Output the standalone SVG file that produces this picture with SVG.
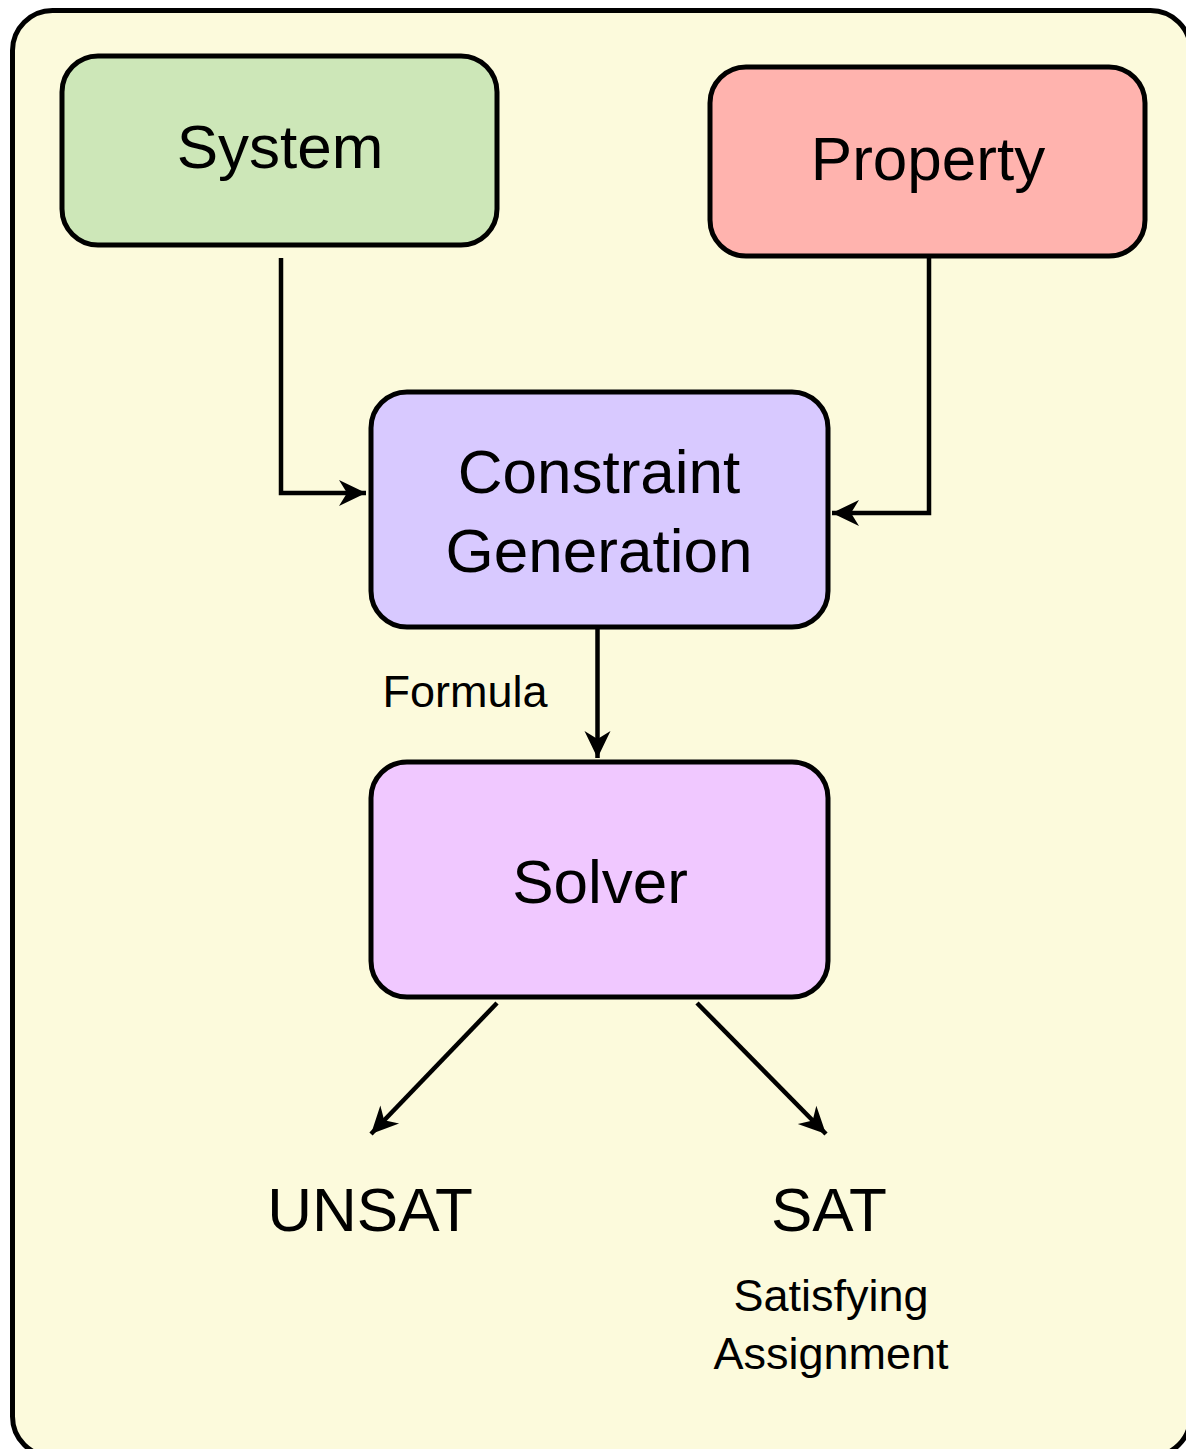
<svg xmlns="http://www.w3.org/2000/svg" width="1186" height="1449" viewBox="0 0 1186 1449">
  <style>
    .frame { fill: #fcfadc; stroke: #000; stroke-width: 5; }
    .box { stroke: #000; stroke-width: 5; }
    .big { font-family: "Liberation Sans", Arial, sans-serif; font-size: 62px; fill: #000; text-anchor: middle; }
    .small { font-family: "Liberation Sans", Arial, sans-serif; font-size: 45px; fill: #000; text-anchor: middle; }
    .wire { fill: none; stroke: #000; stroke-width: 4.5; marker-end: url(#head); }
  </style>
  <defs>
    <marker id="head" markerUnits="userSpaceOnUse" markerWidth="32" markerHeight="32" viewBox="-30 -15 32 30" refX="0" refY="0" orient="auto">
      <path d="M0,0 L-27,-13 L-19,0 L-27,13 Z" fill="#000"/>
    </marker>
  </defs>

  <!-- background panel, running off the right and bottom edges -->
  <rect class="frame" x="12.5" y="10.5" width="1178" height="1446" rx="40" ry="40"/>

  <g id="system">
    <rect class="box" x="62" y="56" width="435" height="189" rx="36" ry="36" fill="#cde7b8"/>
    <text class="big" x="280" y="168">System</text>
  </g>

  <g id="property">
    <rect class="box" x="710" y="67" width="435" height="189" rx="36" ry="36" fill="#ffb3ae"/>
    <text class="big" x="928" y="180">Property</text>
  </g>

  <g id="constraint-generation">
    <rect class="box" x="371" y="392" width="457" height="235" rx="36" ry="36" fill="#d8c9ff"/>
    <text class="big" x="599" y="493">Constraint</text>
    <text class="big" x="599" y="572">Generation</text>
  </g>

  <g id="solver">
    <rect class="box" x="371" y="762" width="457" height="235" rx="36" ry="36" fill="#f0c8ff"/>
    <text class="big" x="600" y="903">Solver</text>
  </g>

  <g id="unsat">
    <text class="big" x="370" y="1231">UNSAT</text>
  </g>

  <g id="sat">
    <text class="big" x="829" y="1231">SAT</text>
    <text class="small" x="831" y="1311">Satisfying</text>
    <text class="small" x="831" y="1369">Assignment</text>
  </g>

  <g id="connectors">
    <path class="wire" d="M281,258 V493 H366"/>
    <path class="wire" d="M929,258 V513 H832"/>
    <path class="wire" d="M597.5,628 V758"/>
    <path class="wire" d="M497,1003 L371,1134"/>
    <path class="wire" d="M697,1003 L826,1134"/>
    <text class="small" x="465" y="707">Formula</text>
  </g>
</svg>
